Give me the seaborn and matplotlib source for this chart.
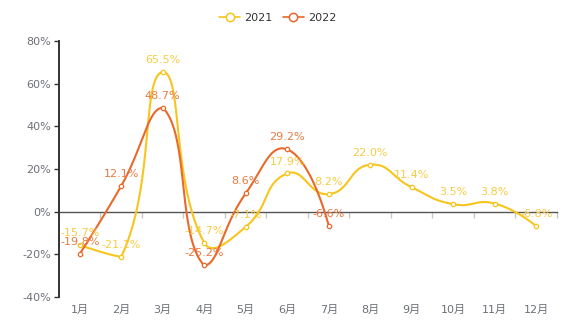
import numpy as np
import pandas as pd
import matplotlib
matplotlib.use("Agg")
import matplotlib.pyplot as plt
from matplotlib.lines import Line2D
import seaborn as sns

months = ["1月", "2月", "3月", "4月", "5月", "6月", "7月", "8月", "9月", "10月", "11月", "12月"]
v2021 = [-15.7, -21.1, 65.5, -14.7, -7.1, 17.9, 8.2, 22.0, 11.4, 3.5, 3.8, -6.8]
v2022 = [-19.8, 12.1, 48.7, -25.2, 8.6, 29.2, -6.6]
series_names = ["2021", "2022"]
colors = {"2021": "#F7C51E", "2022": "#E8692B"}
label_colors = {"2021": "#F8CB45", "2022": "#EA7A40"}

sns.set_theme(style="white")
plt.rcParams["font.family"] = ["DejaVu Sans", "Noto Sans CJK SC"]

W, H = 567, 335
fig = plt.figure(figsize=(W / 100, H / 100), dpi=100)
left, right, top, bottom = 59, 557, 41, 297
ax = fig.add_axes([left / W, 1 - bottom / H, (right - left) / W, (bottom - top) / H])
ymin, ymax = -40, 80
ax.set_xlim(-0.5, len(months) - 0.5)
ax.set_ylim(ymin, ymax)

# pixel scales for echarts-like smoothing
sx = (right - left) / len(months)
sy = (bottom - top) / (ymax - ymin)


def smooth_curve(vals, smooth=0.5, n=40):
    pts = np.array([[i * sx, v * sy] for i, v in enumerate(vals)])
    lo = pts.min(axis=0)
    hi = pts.max(axis=0)
    out = [pts[0]]
    cp0 = pts[0].copy()
    m = len(pts)
    for k in range(1, m):
        p = pts[k]
        prev = pts[k - 1]
        if k + 1 >= m:
            ncp0 = p.copy()
            vvec = np.zeros(2)
            ratio = 0.5
        else:
            nxt = pts[k + 1]
            vvec = nxt - prev
            lp = np.hypot(*(p - prev))
            ln = np.hypot(*(nxt - p))
            ratio = ln / (ln + lp)
            ncp0 = p - vvec * smooth * (1 - ratio)
        c0 = np.clip(cp0, lo, hi)
        c1 = np.clip(ncp0, lo, hi)
        t = np.linspace(0, 1, n)[1:, None]
        seg = ((1 - t) ** 3) * prev + 3 * ((1 - t) ** 2) * t * c0 + 3 * (1 - t) * t ** 2 * c1 + t ** 3 * p
        out.extend(seg)
        cp0 = p + vvec * smooth * ratio
    out = np.array(out)
    return out[:, 0] / sx, out[:, 1] / sy


frames = []
for name, vals in zip(series_names, [v2021, v2022]):
    cx, cy = smooth_curve(vals)
    frames.append(pd.DataFrame({"x": cx, "y": cy, "year": name}))
curve = pd.concat(frames, ignore_index=True)

sns.lineplot(data=curve, x="x", y="y", hue="year", palette=colors, sort=False,
             estimator=None, units="year", linewidth=1.5, legend=False, ax=ax, zorder=3)

for name, vals in zip(series_names, [v2021, v2022]):
    pts = pd.DataFrame({"x": np.arange(len(vals)), "y": vals})
    sns.scatterplot(data=pts, x="x", y="y", color="white", edgecolor=colors[name],
                    linewidth=0.9, s=10, ax=ax, zorder=4, legend=False)
    for i, v in enumerate(vals):
        ax.annotate(f"{v:.1f}%", (i, v), xytext=(0, 5), textcoords="offset points",
                    ha="center", va="bottom", fontsize=8, color=label_colors[name], zorder=5)

# y axis
ax.set_yticks(np.arange(ymin, ymax + 1, 20))
ax.set_yticklabels([f"{t}%" for t in range(ymin, ymax + 1, 20)])
ax.tick_params(axis="y", which="major", direction="out", length=3.5, width=1,
               color="#333333", labelcolor="#6E7079", labelsize=8, pad=2, left=True)
for s in ["top", "right", "bottom"]:
    ax.spines[s].set_visible(False)
ax.spines["left"].set_color("#333333")
ax.spines["left"].set_linewidth(1.4)

# x labels at bottom
ax.set_xticks(np.arange(len(months)))
ax.set_xticklabels(months)
ax.tick_params(axis="x", length=0, labelcolor="#6E7079", labelsize=8, pad=6)
ax.set_xlabel("")
ax.set_ylabel("")

# zero axis line with category boundary ticks
sec = ax.secondary_xaxis((0 - ymin) / (ymax - ymin))
sec.set_xticks(np.arange(-0.5, len(months), 1.0))
sec.set_xticklabels([])
sec.tick_params(axis="x", direction="out", length=4, width=1, color="#C8C8C8")
sec.spines["bottom"].set_color("#555555")
sec.spines["bottom"].set_linewidth(1.0)

ax.grid(False)

handles = [Line2D([0], [0], color=colors[n], lw=1.2, marker="o", markersize=6,
                  markerfacecolor="white", markeredgecolor=colors[n], markeredgewidth=1.1)
           for n in series_names]
fig.legend(handles, series_names, loc="upper center", bbox_to_anchor=(0.49, 0.99), ncol=2,
           frameon=False, fontsize=8, labelcolor="#333333", handlelength=1.9,
           handletextpad=0.4, columnspacing=0.9)

fig.savefig("out.png", dpi=100)
